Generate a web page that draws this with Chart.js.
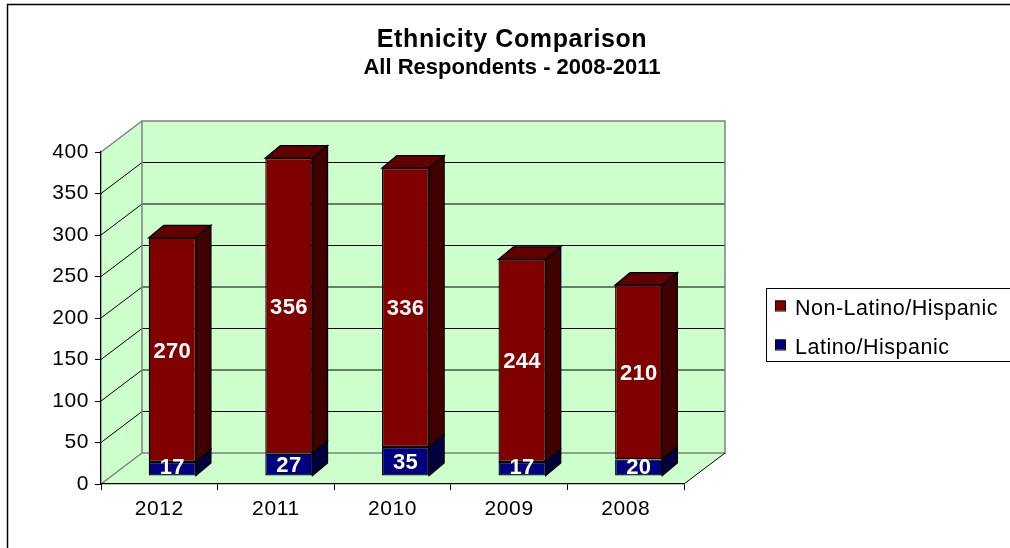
<!DOCTYPE html>
<html>
<head>
<meta charset="utf-8">
<script src="https://cdn.jsdelivr.net/npm/chart.js@4/dist/chart.umd.min.js"></script>
<style>
  body { margin: 0; background: #fff; }
  #wrap { width: 1010px; height: 548px; }
</style>
</head>
<body>
<div id="wrap"><canvas id="ethnicity" width="1010" height="548"></canvas></div>
<script>
var years = ['2012', '2011', '2010', '2009', '2008'];
var latino = [17, 27, 35, 17, 20];
var nonLatino = [270, 356, 336, 244, 210];
var yTicks = [0, 50, 100, 150, 200, 250, 300, 350, 400];

var FONT = '"Liberation Sans", Arial, sans-serif';
var WALL = { x: 41, y: -31 };        // depth of floor / side wall
var BAR_SHIFT = { x: 13, y: -8 };    // bars sit a little behind the front plane
var BAR_DEPTH = { x: 15, y: -12.5 };
var WALL_GREEN = '#ccffcc';

Chart.defaults.font.family = FONT;

function poly(ctx, pts, fill, stroke, lw) {
  ctx.beginPath();
  ctx.moveTo(pts[0][0], pts[0][1]);
  for (var i = 1; i < pts.length; i++) ctx.lineTo(pts[i][0], pts[i][1]);
  ctx.closePath();
  if (fill) { ctx.fillStyle = fill; ctx.fill(); }
  if (stroke) { ctx.strokeStyle = stroke; ctx.lineWidth = lw || 1; ctx.stroke(); }
}

var box3d = {
  id: 'box3d',
  beforeDraw: function (chart) {
    var ctx = chart.ctx, a = chart.chartArea, ys = chart.scales.y;
    var L = a.left, R = a.right, T = a.top, B = a.bottom, dx = WALL.x, dy = WALL.y;
    ctx.save();
    ctx.fillStyle = '#fff';
    ctx.fillRect(0, 0, chart.width, chart.height);

    // frame
    ctx.strokeStyle = '#000';
    ctx.lineWidth = 1.5;
    ctx.beginPath();
    ctx.moveTo(7.5, chart.height);
    ctx.lineTo(7.5, 4.5);
    ctx.lineTo(chart.width, 4.5);
    ctx.stroke();

    // titles
    ctx.fillStyle = '#000';
    ctx.textAlign = 'center';
    ctx.textBaseline = 'alphabetic';
    ctx.letterSpacing = '0.6px';
    ctx.font = 'bold 25px ' + FONT;
    ctx.fillText('Ethnicity Comparison', 512, 47);
    ctx.letterSpacing = '0px';
    ctx.font = 'bold 22px ' + FONT;
    ctx.fillText('All Respondents - 2008-2011', 512, 74);

    // legend
    ctx.lineWidth = 1;
    ctx.strokeRect(766.5, 288.5, 260, 73);
    ctx.textAlign = 'left';
    ctx.letterSpacing = '0.5px';
    ctx.font = '21.5px ' + FONT;
    var rows = [chart.data.datasets[1], chart.data.datasets[0]];
    rows.forEach(function (ds, i) {
      var cy = 307.5 + i * 39;
      ctx.fillStyle = ds.backgroundColor;
      ctx.fillRect(775, cy - 7, 10, 10);
      ctx.strokeRect(775.5, cy - 6.5, 10, 10);
      ctx.fillStyle = '#000';
      ctx.fillText(ds.label, 795, cy + 7.7);
    });
    ctx.letterSpacing = '0px';

    // floor, side wall, back wall
    poly(ctx, [[L, B], [R, B], [R + dx, B + dy], [L + dx, B + dy]], WALL_GREEN);
    poly(ctx, [[L, T], [L + dx, T + dy], [L + dx, B + dy], [L, B]], WALL_GREEN);
    ctx.fillStyle = WALL_GREEN;
    ctx.fillRect(L + dx, T + dy, R - L, B - T);

    // gridlines wrap from the side wall onto the back wall
    ctx.strokeStyle = '#000';
    ctx.lineWidth = 1;
    yTicks.slice(1, -1).forEach(function (v) {
      var p = ys.getPixelForValue(v);
      ctx.beginPath();
      ctx.moveTo(L, p);
      ctx.lineTo(L + dx, p + dy);
      ctx.lineTo(R + dx, p + dy);
      ctx.stroke();
    });

    // wall edges
    ctx.strokeStyle = '#808080';
    ctx.lineWidth = 1.5;
    ctx.strokeRect(L + dx, T + dy, R - L, B - T);
    ctx.beginPath();
    ctx.moveTo(L, T); ctx.lineTo(L + dx, T + dy);
    ctx.moveTo(L, B); ctx.lineTo(L + dx, B + dy);
    ctx.stroke();
    ctx.strokeStyle = '#000';
    ctx.lineWidth = 1;
    ctx.beginPath();
    ctx.moveTo(R, B); ctx.lineTo(R + dx, B + dy);
    ctx.stroke();
    ctx.restore();

    // slight spacing for the axis tick labels
    ctx.letterSpacing = '0.6px';
  },
  beforeDatasetsDraw: function (chart) {
    chart.ctx.save();
    chart.ctx.translate(BAR_SHIFT.x, BAR_SHIFT.y);
  },
  afterDatasetsDraw: function (chart) {
    var ctx = chart.ctx;
    ctx.restore();
    ctx.save();
    var last = chart.data.datasets.length - 1;
    chart.data.datasets.forEach(function (ds, di) {
      var meta = chart.getDatasetMeta(di);
      meta.data.forEach(function (bar, i) {
        var p = bar.getProps(['x', 'y', 'base', 'width'], true);
        var xl = p.x - p.width / 2 + BAR_SHIFT.x, xr = p.x + p.width / 2 + BAR_SHIFT.x;
        var yt = p.y + BAR_SHIFT.y, yb = p.base + BAR_SHIFT.y;
        var dx = BAR_DEPTH.x, dy = BAR_DEPTH.y;
        poly(ctx, [[xr, yt], [xr + dx, yt + dy], [xr + dx, yb + dy], [xr, yb]], ds.sideColor, '#000', 1.3);
        if (di === last) {
          poly(ctx, [[xl, yt], [xr, yt], [xr + dx, yt + dy], [xl + dx, yt + dy]], ds.topColor, '#000', 1.3);
        }
        ctx.fillStyle = '#fff';
        ctx.font = 'bold 22px ' + FONT;
        ctx.letterSpacing = '0.3px';
        ctx.textAlign = 'center';
        ctx.textBaseline = 'alphabetic';
        var cy = Math.min((yt + yb) / 2, yb - 9.5);
        ctx.fillText(String(ds.data[i]), (xl + xr) / 2, cy + 7.8);
      });
    });
    ctx.restore();
  },
  afterDraw: function (chart) {
    chart.ctx.letterSpacing = '0px';
  }
};

new Chart(document.getElementById('ethnicity'), {
  type: 'bar',
  data: {
    labels: years,
    datasets: [
      {
        label: 'Latino/Hispanic',
        data: latino,
        backgroundColor: '#000080',
        sideColor: '#000040',
        topColor: '#000060',
        borderColor: '#000',
        borderWidth: 1.3,
        borderSkipped: false
      },
      {
        label: 'Non-Latino/Hispanic',
        data: nonLatino,
        backgroundColor: '#800000',
        sideColor: '#400000',
        topColor: '#600000',
        borderColor: '#000',
        borderWidth: 1.3,
        borderSkipped: false
      }
    ]
  },
  options: {
    responsive: false,
    animation: false,
    layout: { padding: { top: 152, right: 326, left: 0, bottom: 0 } },
    datasets: { bar: { categoryPercentage: 1, barPercentage: 0.405 } },
    plugins: {
      legend: { display: false },
      title: { display: false },
      tooltip: { enabled: false }
    },
    scales: {
      x: {
        stacked: true,
        ticks: { color: '#000', font: { size: 21 }, padding: 7 },
        grid: { drawOnChartArea: false, offset: true, tickLength: 6, color: '#000' },
        border: { color: '#000', width: 1.3 },
        afterFit: function (s) { s.height = 64; }
      },
      y: {
        stacked: true,
        min: 0,
        max: 400,
        afterBuildTicks: function (s) { s.ticks = yTicks.map(function (v) { return { value: v }; }); },
        ticks: { color: '#000', font: { size: 21 }, padding: 6 },
        grid: { drawOnChartArea: false, tickLength: 6, color: '#000' },
        border: { color: '#000', width: 1.3 },
        afterFit: function (s) { s.width = 101; }
      }
    }
  },
  plugins: [box3d]
});
</script>
</body>
</html>
